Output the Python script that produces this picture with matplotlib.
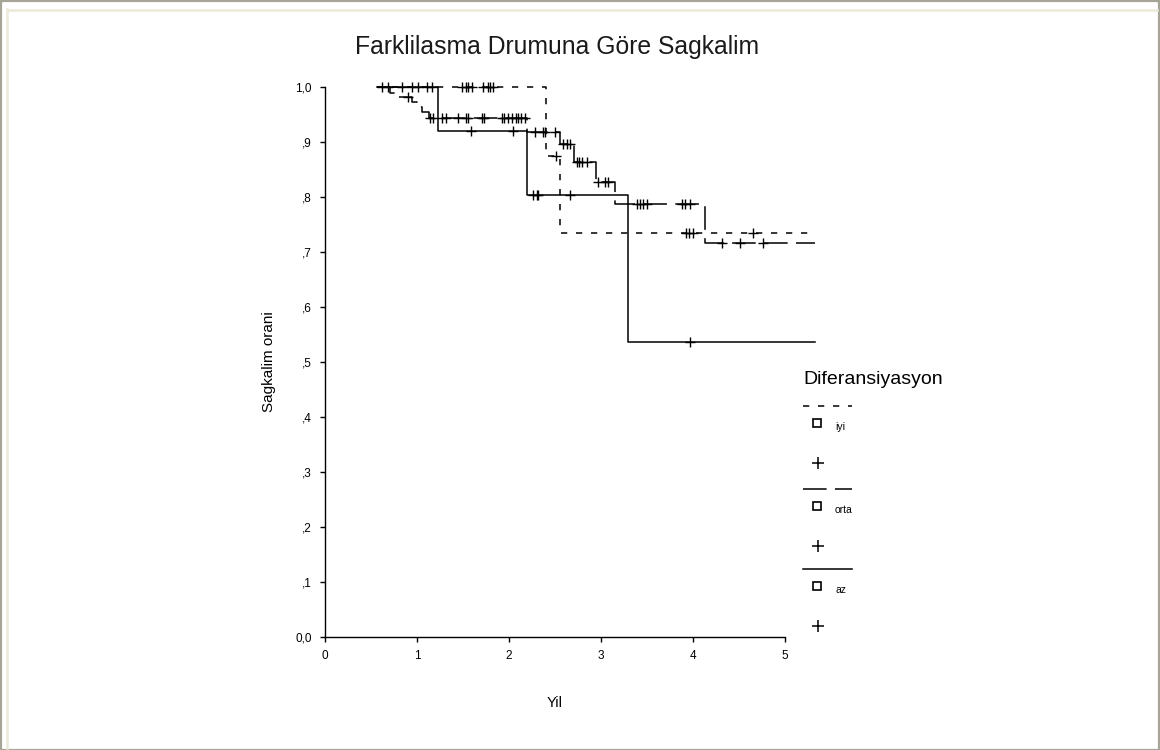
import matplotlib
matplotlib.use('Agg')
import matplotlib.pyplot as plt
from matplotlib.lines import Line2D
from matplotlib.patches import Rectangle
import numpy as np

plt.rcParams['font.family'] = ['Liberation Sans', 'DejaVu Sans']
plt.rcParams['lines.scale_dashes'] = False

W, H = 1160, 750

# Kaplan-Meier steps (time in years, survival after the step)
iyi_times = [0.57, 2.40, 2.55]
iyi_surv = [1.0, 0.874, 0.735]
iyi_cens = [0.62, 0.84, 1.01, 1.11, 1.16, 1.49, 1.53, 1.55, 1.60, 1.72, 1.77,
            1.79, 1.83, 2.51, 3.92, 3.96, 4.00, 4.65]

orta_times = [0.57, 0.71, 0.76, 0.95, 1.00, 1.05, 1.13, 2.20, 2.55, 2.71, 2.95, 3.15, 4.13]
orta_surv = [1.0, 0.990, 0.981, 0.972, 0.963, 0.954, 0.944, 0.918, 0.896, 0.864,
             0.827, 0.788, 0.716]
orta_cens = [0.90, 1.14, 1.17, 1.27, 1.32, 1.45, 1.53, 1.55, 1.71, 1.73, 1.92, 1.95,
             1.99, 2.03, 2.08, 2.10, 2.13, 2.17, 2.28, 2.37, 2.39, 2.50, 2.59, 2.63,
             2.66, 2.74, 2.76, 2.79, 2.85, 2.97, 3.04, 3.08, 3.39, 3.42, 3.46, 3.50,
             3.88, 3.91, 3.97, 4.32, 4.51, 4.76]

az_times = [0.57, 1.23, 2.20, 3.29]
az_surv = [1.0, 0.920, 0.804, 0.536]
az_cens = [0.68, 0.95, 1.59, 2.04, 2.26, 2.30, 2.32, 2.66, 3.97]

end_time = 5.33

group_names = ['iyi', 'orta', 'az']
y_ticks = [0.0, 0.1, 0.2, 0.3, 0.4, 0.5, 0.6, 0.7, 0.8, 0.9, 1.0]
y_labels = ['0,0', ',1', ',2', ',3', ',4', ',5', ',6', ',7', ',8', ',9', '1,0']
x_ticks = [0, 1, 2, 3, 4, 5]

styles = {
    'iyi': dict(dashes=(4.5, 6.3)),
    'orta': dict(dashes=(17, 6)),
    'az': dict(linestyle='-'),
}


def surv_at(t, times, surv):
    idx = np.searchsorted(times, t, side='right') - 1
    return surv[max(idx, 0)]


def fx(x):
    return x / W


def fy(y):
    return 1 - y / H


fig = plt.figure(figsize=(W / 100, H / 100), dpi=100)
fig.patch.set_facecolor('white')

# window frame
fig.add_artist(Rectangle((fx(0.5), fy(749.5)), fx(1158.5), 1 - 1.0 / H, transform=fig.transFigure,
                         fill=False, edgecolor='#a7a597', linewidth=1.6))
fig.add_artist(Line2D([fx(6.5), fx(6.5)], [fy(9), fy(748)], transform=fig.transFigure,
                      color='#ece9d8', linewidth=1.8))
fig.add_artist(Line2D([fx(6.5), fx(1157)], [fy(10), fy(10)], transform=fig.transFigure,
                      color='#ece9d8', linewidth=1.8))

ax = fig.add_axes([fx(325), fy(637), (785 - 325) / W, (637 - 87) / H])

data = {
    'iyi': (iyi_times, iyi_surv, iyi_cens),
    'orta': (orta_times, orta_surv, orta_cens),
    'az': (az_times, az_surv, az_cens),
}

for name in group_names:
    times, surv, cens = data[name]
    ax.step(times + [end_time], surv + [surv[-1]], where='post', color='black',
            linewidth=1.1, clip_on=False, **styles[name])
    cy = [surv_at(t, times, surv) for t in cens]
    ax.plot(cens, cy, linestyle='none', marker='+', markersize=7, markeredgewidth=1.0,
            color='black', clip_on=False)

ax.set_xlim(0, 5)
ax.set_ylim(0, 1.0)
ax.set_xticks(x_ticks)
ax.set_xticklabels([str(v) for v in x_ticks], fontsize=8.5)
ax.set_yticks(y_ticks)
ax.set_yticklabels(y_labels, fontsize=8.5)
for s in ['top', 'right']:
    ax.spines[s].set_visible(False)
for s in ['left', 'bottom']:
    ax.spines[s].set_linewidth(1.0)
ax.tick_params(direction='out', length=3.5, width=1.0, pad=6)

ax.set_ylabel('Sagkalim orani', fontsize=11, labelpad=14)
ax.set_xlabel('Yil', fontsize=10.5, labelpad=24)

fig.text(fx(557), fy(47), 'Farklilasma Drumuna Göre Sagkalim', fontsize=17.8,
         ha='center', va='center', color='#1a1a1a')

# legend drawn by hand, laid out like the original
fig.text(fx(803), fy(379), 'Diferansiyasyon', fontsize=14, ha='left', va='center')
line_rows = [406, 489, 569]
for name, ly in zip(group_names, line_rows):
    fig.add_artist(Line2D([fx(803), fx(852)], [fy(ly), fy(ly)], transform=fig.transFigure,
                          color='black', linewidth=1.1, **styles[name]))
    fig.add_artist(Line2D([fx(817)], [fy(ly + 17)], transform=fig.transFigure,
                          marker='s', markersize=5.5, markerfacecolor='white',
                          markeredgecolor='black', markeredgewidth=1.2, linestyle='none'))
    fig.text(fx(835), fy(ly + 21), name, fontsize=7.5, ha='left', va='center')
    fig.add_artist(Line2D([fx(818)], [fy(ly + 57)], transform=fig.transFigure,
                          marker='+', markersize=8, markeredgewidth=1.1,
                          color='black', linestyle='none'))

fig.savefig('out.png', dpi=100)
